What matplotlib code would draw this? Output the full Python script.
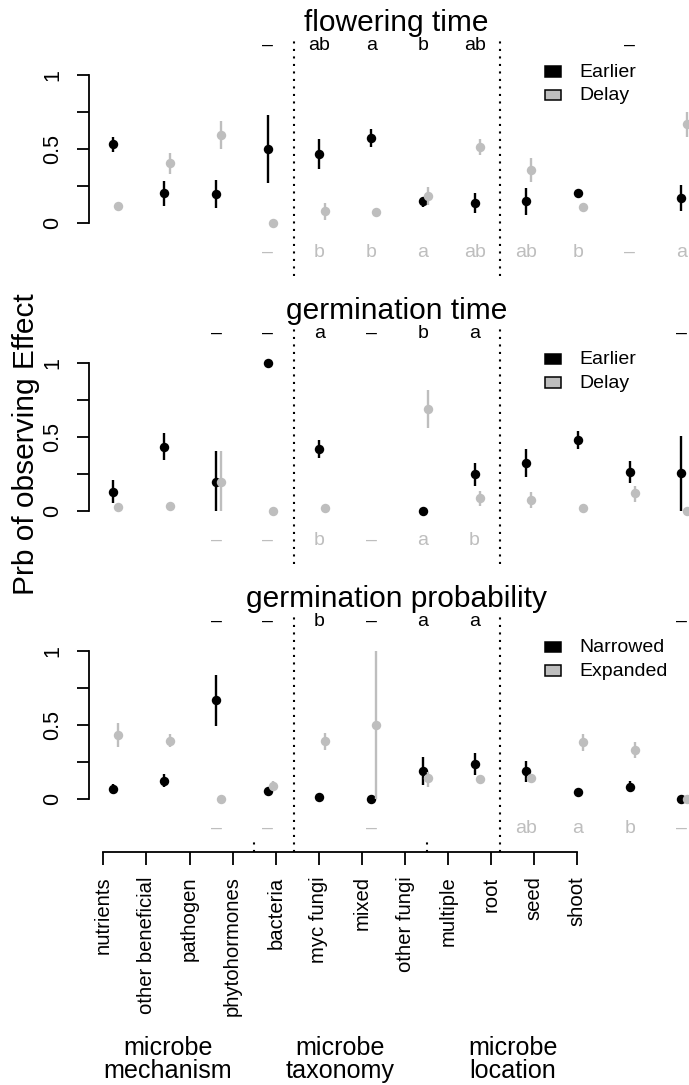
import numpy as np
import matplotlib
matplotlib.use('Agg')
import matplotlib.pyplot as plt
from matplotlib.patches import Rectangle
from matplotlib.transforms import blended_transform_factory

plt.rcParams['font.family'] = ['Liberation Sans', 'DejaVu Sans']

nan = np.nan

# ---------------- data ----------------
categories = ['nutrients', 'other beneficial', 'pathogen', 'phytohormones',
              'bacteria', 'myc fungi', 'mixed', 'other fungi',
              'multiple', 'root', 'seed', 'shoot']
group_sizes = [4, 4, 4]
group_top = ['microbe', 'microbe', 'microbe']
group_bottom = ['mechanism', 'taxonomy', 'location']
ylabel = 'Prb of observing Effect'

titles = ['flowering time', 'germination time', 'germination probability']
legend_labels = [['Earlier', 'Delay'], ['Earlier', 'Delay'], ['Narrowed', 'Expanded']]

# flowering time
ft_early = [0.533, 0.199, 0.194, 0.499, 0.463, 0.576, 0.149, 0.135, 0.145, 0.203, nan, 0.169]
ft_early_lo = [0.480, 0.115, 0.097, 0.271, 0.362, 0.515, 0.108, 0.064, 0.052, nan, nan, 0.081]
ft_early_hi = [0.581, 0.282, 0.289, 0.729, 0.565, 0.632, 0.176, 0.199, 0.237, nan, nan, 0.255]
ft_delay = [0.113, 0.402, 0.594, 0.0, 0.079, 0.074, 0.181, 0.515, 0.357, 0.108, nan, 0.668]
ft_delay_lo = [nan, 0.330, 0.499, nan, 0.018, nan, 0.120, 0.458, 0.278, 0.090, nan, 0.582]
ft_delay_hi = [nan, 0.470, 0.689, nan, 0.131, nan, 0.240, 0.565, 0.436, 0.130, nan, 0.752]
ft_let_top = ['', '', '', '–', 'ab', 'a', 'b', 'ab', '', '', '–', '']
ft_let_bot = ['', '', '', '–', 'b', 'b', 'a', 'ab', 'ab', 'b', '–', 'a']

# germination time
gt_early = [0.128, 0.432, 0.196, 1.0, 0.415, nan, 0.0, 0.246, 0.320, 0.478, 0.264, 0.253]
gt_early_lo = [0.050, 0.343, 0.0, nan, 0.354, nan, nan, 0.167, 0.226, 0.415, 0.185, 0.0]
gt_early_hi = [0.207, 0.523, 0.403, nan, 0.478, nan, nan, 0.320, 0.415, 0.538, 0.336, 0.505]
gt_delay = [0.027, 0.034, 0.196, 0.0, 0.016, nan, 0.687, 0.084, 0.072, 0.016, 0.117, 0.0]
gt_delay_lo = [nan, nan, 0.0, nan, nan, nan, 0.557, 0.032, 0.016, nan, 0.061, nan]
gt_delay_hi = [nan, nan, 0.403, nan, nan, nan, 0.815, 0.133, 0.128, nan, 0.167, nan]
gt_let_top = ['', '', '–', '–', 'a', '–', 'b', 'a', '', '', '', '–']
gt_let_bot = ['', '', '–', '–', 'b', '–', 'a', 'b', '', '', '', '']

# germination probability
gp_narrow = [0.068, 0.124, 0.669, 0.056, 0.016, 0.0, 0.191, 0.236, 0.189, 0.050, 0.083, 0.0]
gp_narrow_lo = [0.034, 0.079, 0.495, 0.040, nan, nan, 0.095, 0.162, 0.117, nan, 0.045, nan]
gp_narrow_hi = [0.101, 0.169, 0.838, 0.070, nan, nan, 0.286, 0.309, 0.257, nan, 0.122, nan]
gp_expand = [0.432, 0.394, 0.0, 0.088, 0.392, 0.5, 0.140, 0.135, 0.144, 0.387, 0.331, 0.0]
gp_expand_lo = [0.353, 0.353, nan, 0.054, 0.331, 0.0, 0.083, 0.115, 0.120, 0.326, 0.275, nan]
gp_expand_hi = [0.511, 0.439, nan, 0.122, 0.444, 1.0, 0.185, 0.155, 0.160, 0.439, 0.383, nan]
gp_let_top = ['', '', '–', '–', 'b', '–', 'a', 'a', '', '', '', '–']
gp_let_bot = ['', '', '–', '–', '', '–', '', '', 'ab', 'a', 'b', '–']

panel_data = [
    (ft_early, ft_early_lo, ft_early_hi, ft_delay, ft_delay_lo, ft_delay_hi, ft_let_top, ft_let_bot),
    (gt_early, gt_early_lo, gt_early_hi, gt_delay, gt_delay_lo, gt_delay_hi, gt_let_top, gt_let_bot),
    (gp_narrow, gp_narrow_lo, gp_narrow_hi, gp_expand, gp_expand_lo, gp_expand_hi, gp_let_top, gp_let_bot),
]

# ---------------- layout ----------------
W, H = 689, 1085
fig = plt.figure(figsize=(W / 100, H / 100), dpi=100)
GREY = '#BEBEBE'


def px_axes(left, top, right, bottom):
    return fig.add_axes([left / W, 1 - bottom / H, (right - left) / W, (bottom - top) / H])


def fx(x):
    return x / W


def fy(y):
    return 1 - y / H


AX_L, AX_R = 89.0, 704.4
YLIM = (-0.36, 1.26)
XLIM = (0.5416, 12.445)
panel_px = [(36.6, 275.9), (324.2, 564.0), (612.5, 852.3)]

x = np.arange(1, len(categories) + 1)
bounds = np.cumsum(group_sizes)[:-1] + 0.5
dotted = (0, (1, 2.6))

for p, (top, bot) in enumerate(panel_px):
    ax = px_axes(AX_L, top, AX_R, bot)
    ax.set_xlim(*XLIM)
    ax.set_ylim(*YLIM)
    ax.patch.set_alpha(0)
    e, elo, ehi, d, dlo, dhi, lt, lb = [np.array(v, dtype=object) for v in panel_data[p]]
    e, elo, ehi, d, dlo, dhi = [np.array(v, dtype=float) for v in (e, elo, ehi, d, dlo, dhi)]

    for b in bounds:
        ax.axvline(b, color='black', lw=1.5, ls=dotted, clip_on=False)

    m = ~np.isnan(elo)
    ax.vlines(x[m], elo[m], ehi[m], color='black', lw=1.7, clip_on=False)
    ax.plot(x, e, 'o', color='black', ms=6.8, mec='none', clip_on=False)
    xg = x + 0.1
    m = ~np.isnan(dlo)
    ax.vlines(xg[m], dlo[m], dhi[m], color=GREY, lw=1.7, clip_on=False)
    ax.plot(xg, d, 'o', color=GREY, ms=6.8, mec='none', clip_on=False)

    for i in range(len(categories)):
        if lt[i]:
            ax.text(x[i], 1.2, lt[i], ha='center', va='center', fontsize=14, color='black')
        if lb[i]:
            ax.text(x[i], -0.2, lb[i], ha='center', va='center', fontsize=14, color=GREY)

    for s in ['top', 'right', 'bottom']:
        ax.spines[s].set_visible(False)
    ax.spines['left'].set_bounds(0, 1)
    ax.spines['left'].set_linewidth(1.3)
    ax.set_xticks([])
    ax.set_yticks([0, 0.25, 0.5, 0.75, 1])
    ax.set_yticklabels(['0', '', '0.5', '', '1'])
    ax.tick_params(axis='y', length=8.6, width=1.3, labelsize=15.5, pad=10.0, labelrotation=90)
    for lab in ax.get_yticklabels():
        lab.set_va('center')

    tr = blended_transform_factory(ax.transAxes, ax.transData)
    ax.text(0.5, 1.295, titles[p], transform=tr, ha='center', va='baseline', fontsize=21.5)

    # legend
    y1 = bot - (0 - YLIM[0]) / (YLIM[1] - YLIM[0]) * (bot - top) - (bot - top) / (YLIM[1] - YLIM[0])
    for r, (lab, col) in enumerate(zip(legend_labels[p], ['black', GREY])):
        base = y1 + 1.5 + 23.5 * r
        fig.add_artist(Rectangle((fx(545), fy(base)), 15.7 / W, 10.5 / H,
                                 transform=fig.transFigure, facecolor=col,
                                 edgecolor='black', lw=1.1))
        fig.text(fx(579.3), fy(base), lab, ha='left', va='baseline', fontsize=14)

# bottom category axis
axb = px_axes(AX_L, 832.3, AX_R, 852.3)
axb.set_xlim(0.6682, 14.946)
axb.set_ylim(0, 1)
axb.patch.set_alpha(0)
for s in ['top', 'right', 'left']:
    axb.spines[s].set_visible(False)
axb.spines['bottom'].set_bounds(1, len(categories))
axb.spines['bottom'].set_linewidth(1.3)
axb.set_yticks([])
axb.set_xticks(x)
axb.set_xticklabels(categories, rotation=90, fontsize=14.6)
axb.tick_params(axis='x', length=9.4, width=1.3, pad=8.0)
for b in bounds:
    axb.vlines(b, 0, 0.55, color='black', lw=1.5, ls=dotted)

starts = np.concatenate([[0], np.cumsum(group_sizes)[:-1]])
centers = starts + (np.array(group_sizes) + 1) / 2.0
trb = blended_transform_factory(axb.transData, fig.transFigure)
for c, t1, t2 in zip(centers, group_top, group_bottom):
    axb.text(c, fy(1055), t1, transform=trb, ha='center', va='baseline', fontsize=18.1)
    axb.text(c, fy(1078), t2, transform=trb, ha='center', va='baseline', fontsize=18.1)

fig.text(fx(26), fy(444), ylabel, rotation=90, ha='center', va='center', fontsize=21.5)

fig.savefig('out.png', dpi=100)
